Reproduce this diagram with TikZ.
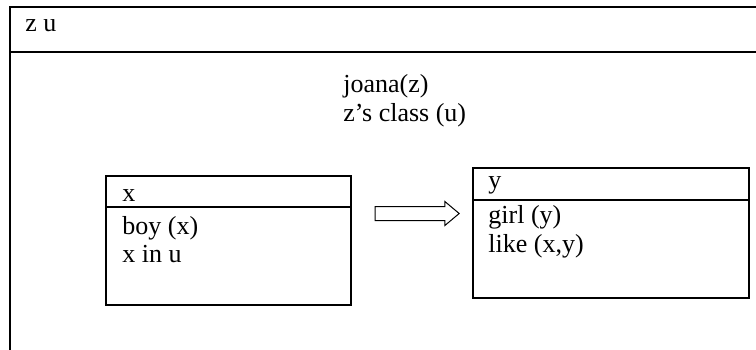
\documentclass[tikz,border=0pt]{standalone}
\usepackage{fontspec}
\setmainfont{Liberation Serif}
\usetikzlibrary{shapes.arrows}

\begin{document}
\begin{tikzpicture}[
  x=0.5pt, y=-0.5pt,
  font=\fontsize{13}{15}\selectfont,
  frame/.style={draw, line width=1pt, inner sep=0pt, outer sep=0pt},
  box/.style={draw, line width=0.8pt, inner sep=0pt, outer sep=0pt},
  txt/.style={anchor=base west, inner sep=0pt},
  fatarrow/.style={draw, line width=0.5pt, single arrow, single arrow head extend=2.5pt,
    single arrow tip angle=80, minimum height=42pt, inner xsep=0pt, inner ysep=3.25pt}
]
\clip (0,0) rectangle (756,349);

% outer box, running off to the right and bottom
\node[frame, minimum width=376pt, minimum height=176.5pt] (outer) at (386,183.5) {};
\draw[line width=1pt] ([yshift=-22.5pt]outer.north west) -- ([yshift=-22.5pt]outer.north east);
\node[txt] (refs) at (25,31) {z u};
\node[txt] (joana) at (343,92) {joana(z)};
\node[txt] (class) at (343,121) {z's class (u)};

% antecedent box
\node[box, minimum width=122.5pt, minimum height=64.5pt] (xbox) at (228.5,240.5) {};
\draw[line width=0.8pt] ([yshift=-15.5pt]xbox.north west) -- ([yshift=-15.5pt]xbox.north east);
\node[txt] (xhead) at (122,201) {x};
\node[txt] (boy) at (122,234) {boy (x)};
\node[txt] (xinu) at (122,262) {x in u};

% consequent box
\node[box, minimum width=138pt, minimum height=65pt] (ybox) at (611,233) {};
\draw[line width=0.8pt] ([yshift=-16pt]ybox.north west) -- ([yshift=-16pt]ybox.north east);
\node[txt] (yhead) at (488,188) {y};
\node[txt] (girl) at (488,223) {girl (y)};
\node[txt] (like) at (488,252) {like (x,y)};

% implication
\node[fatarrow] (impl) at (413,213.5) {};
\end{tikzpicture}
\end{document}
